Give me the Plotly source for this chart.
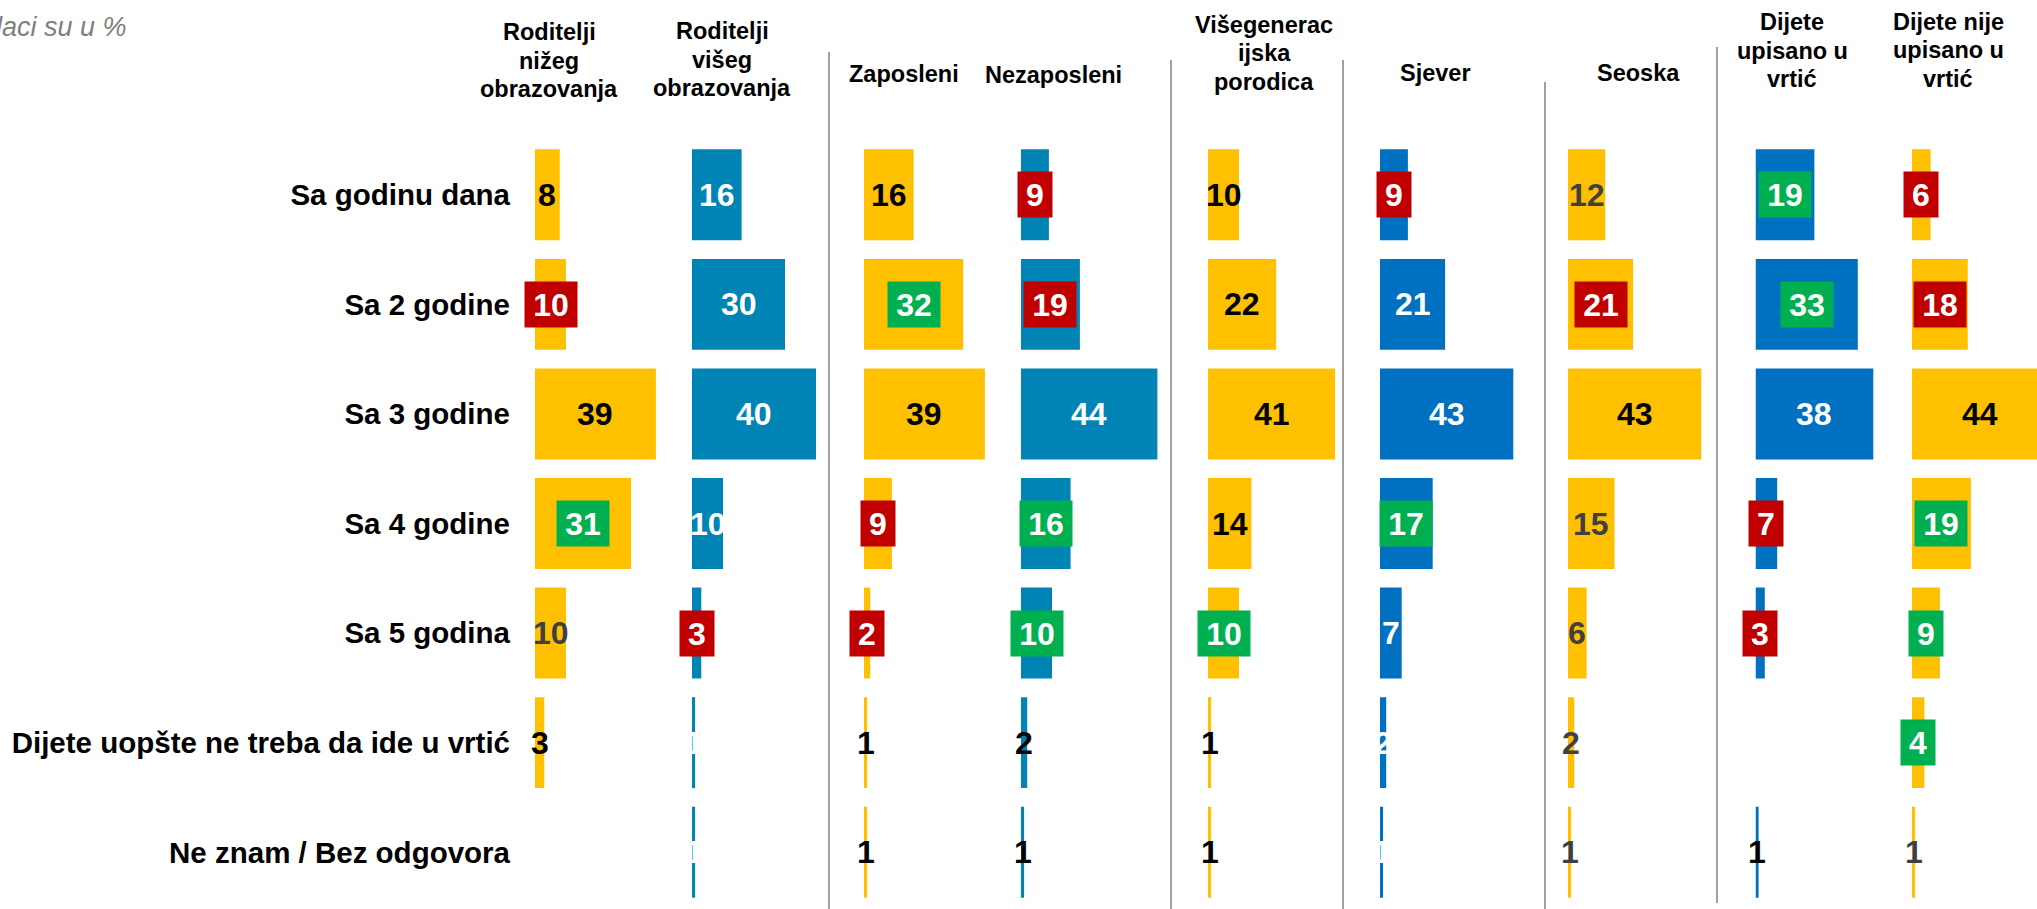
import plotly.graph_objects as go

W, H = 2037, 909
FONT = "Arial, Liberation Sans, sans-serif"

# ---- data -------------------------------------------------------------
categories = [
    "Sa godinu dana",
    "Sa 2 godine",
    "Sa 3 godine",
    "Sa 4 godine",
    "Sa 5 godina",
    "Dijete uopšte ne treba da ide u vrtić",
    "Ne znam / Bez odgovora",
]

group_titles = [
    ["Roditelji", "nižeg", "obrazovanja"],
    ["Roditelji", "višeg", "obrazovanja"],
    ["Zaposleni"],
    ["Nezaposleni"],
    ["Višegenerac", "ijska", "porodica"],
    ["Sjever"],
    ["Seoska"],
    ["Dijete", "upisano u", "vrtić"],
    ["Dijete nije", "upisano u", "vrtić"],
]

roditelji_nizeg = [8, 10, 39, 31, 10, 3, None]
roditelji_viseg = [16, 30, 40, 10, 3, 1, 1]
zaposleni = [16, 32, 39, 9, 2, 1, 1]
nezaposleni = [9, 19, 44, 16, 10, 2, 1]
visegeneracijska = [10, 22, 41, 14, 10, 1, 1]
sjever = [9, 21, 43, 17, 7, 2, 1]
seoska = [12, 21, 43, 15, 6, 2, 1]
upisano = [19, 33, 38, 7, 3, None, 1]
nije_upisano = [6, 18, 44, 19, 9, 4, 1]

# significance versus the total: "+" higher, "-" lower, "" no difference
sig_nizeg = ["", "-", "", "+", "", "", ""]
sig_viseg = ["", "", "", "", "-", "", ""]
sig_zaposleni = ["", "+", "", "-", "-", "", ""]
sig_nezaposleni = ["-", "-", "", "+", "+", "", ""]
sig_vise = ["", "", "", "", "+", "", ""]
sig_sjever = ["-", "", "", "+", "", "", ""]
sig_seoska = ["", "-", "", "", "", "", ""]
sig_upisano = ["+", "+", "", "-", "-", "", ""]
sig_nije = ["-", "-", "", "+", "+", "+", ""]

series = [roditelji_nizeg, roditelji_viseg, zaposleni, nezaposleni,
          visegeneracijska, sjever, seoska, upisano, nije_upisano]
signif = [sig_nizeg, sig_viseg, sig_zaposleni, sig_nezaposleni,
          sig_vise, sig_sjever, sig_seoska, sig_upisano, sig_nije]

# ---- styling ------------------------------------------------------------
YELLOW, TEAL, BLUE = "#FFC000", "#0083B5", "#0070C0"
RED, GREEN = "#C00000", "#00B050"
K, G, Wt = "#000000", "#404040", "#FFFFFF"

bar_colors = [YELLOW, TEAL, YELLOW, TEAL, YELLOW, BLUE, YELLOW, BLUE, YELLOW]
label_ink = [
    [K, K, K, K, G, K, K],
    [Wt, Wt, Wt, Wt, Wt, Wt, Wt],
    [K, K, K, K, K, K, K],
    [K, K, Wt, K, K, K, K],
    [K, K, K, K, K, K, K],
    [Wt, Wt, Wt, Wt, Wt, Wt, Wt],
    [G, G, K, G, G, G, G],
    [K, K, Wt, K, K, K, K],
    [K, K, K, K, K, K, G],
]

PX_PER_UNIT = 3.1
col_left = [535, 692, 864, 1021, 1208, 1380, 1568, 1755.5, 1912]
head_cx = [549, 722, 904, 1053, 1264, 1435, 1638, 1792, 1948]
head_base = [40, 39, 81.7, 83.3, 32.7, 81, 81, 30, 29.5]
LINE_PITCH = 28.5
dividers = [(829, 52, 909), (1171, 60, 909), (1343, 60, 909),
            (1545, 82, 909), (1717, 47, 903)]

plot_top, plot_bottom = 140, 907


def px(x):
    return x / W


def py(y):
    return 1 - y / H


fig = go.Figure()
layout_axes = {}
annotations = []

for i, (vals, col) in enumerate(zip(series, bar_colors)):
    xname = "x" if i == 0 else f"x{i + 1}"
    fig.add_trace(go.Bar(
        x=vals, y=categories, orientation="h", xaxis=xname, yaxis="y",
        marker=dict(color=col, line=dict(width=0)), width=0.83,
        hoverinfo="skip", showlegend=False,
    ))
    left = col_left[i]
    rng = min(46, (W - left) / PX_PER_UNIT)
    layout_axes["xaxis" if i == 0 else f"xaxis{i + 1}"] = dict(
        domain=[px(left), min(1.0, px(left + rng * PX_PER_UNIT))],
        range=[0, rng], visible=False, anchor="y", fixedrange=True,
    )

    # value labels, with a coloured badge where the difference is significant
    for cat, v, s, ink in zip(categories, vals, signif[i], label_ink[i]):
        if v is None:
            continue
        ann = dict(
            x=v / 2, y=cat, xref=xname, yref="y", text=str(v), showarrow=False,
            xanchor="center", yanchor="middle",
            font=dict(family=FONT, size=32, color=ink, weight="bold"),
        )
        if s:
            ann.update(
                bgcolor=GREEN if s == "+" else RED, borderpad=0,
                width=34 if v < 10 else 52, height=45,
                font=dict(family=FONT, size=32, color=Wt, weight="bold"),
            )
        annotations.append(ann)

    # column headings
    for j, line in enumerate(group_titles[i]):
        annotations.append(dict(
            x=px(head_cx[i]), y=py(head_base[i] + j * LINE_PITCH - 8),
            xref="paper", yref="paper", text=line, showarrow=False,
            xanchor="center", yanchor="middle",
            font=dict(family=FONT, size=23.5, color="#000000", weight="bold"),
        ))

annotations.append(dict(
    x=px(129), y=py(27), xref="paper", yref="paper", text="Podaci su u %",
    showarrow=False, xanchor="right", yanchor="middle",
    font=dict(family=FONT, size=27, color="#7F7F7F", style="italic"),
))

shapes = [
    dict(type="line", xref="paper", yref="paper", x0=px(x), x1=px(x),
         y0=py(top), y1=py(bot), line=dict(color="#808080", width=1.5))
    for x, top, bot in dividers
]

fig.update_layout(
    width=W, height=H,
    margin=dict(l=0, r=0, t=0, b=0),
    paper_bgcolor="white", plot_bgcolor="white",
    barmode="overlay",
    yaxis=dict(
        domain=[py(plot_bottom), py(plot_top)],
        type="category", categoryorder="array", categoryarray=categories,
        range=[6.5, -0.5], anchor="x", showgrid=False, zeroline=False,
        showline=False, ticks="", ticklabelstandoff=24, automargin=False,
        tickfont=dict(family=FONT, size=29.5, color="#000000", weight="bold"),
        fixedrange=True,
    ),
    annotations=annotations,
    shapes=shapes,
    **layout_axes,
)

fig.write_html("out.html")
